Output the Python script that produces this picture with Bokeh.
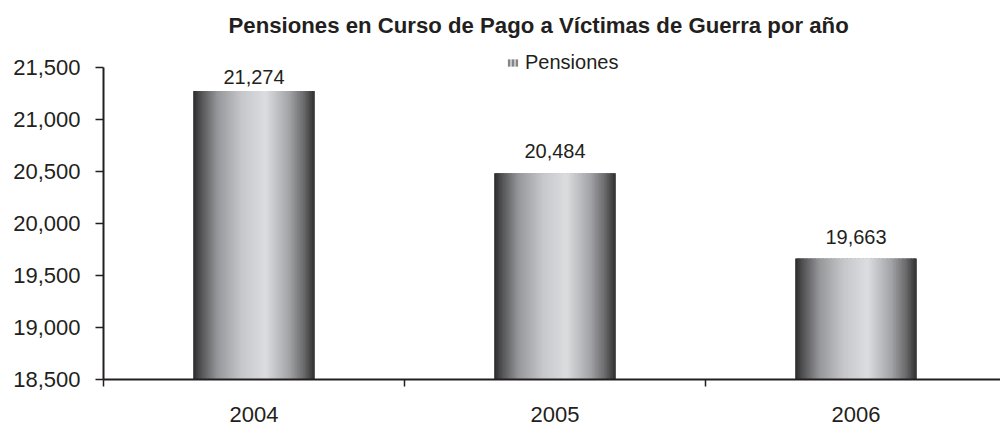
from bokeh.plotting import figure
from bokeh.models import (Range1d, FixedTicker, NumeralTickFormatter, Legend,
                          LegendItem, Title)
from bokeh.core.properties import value
from bokeh.embed import file_html
from bokeh.resources import INLINE

# ---- data ----
years = ["2004", "2005", "2006"]
pensiones = [21274, 20484, 19663]
y_ticks = [18500, 19000, 19500, 20000, 20500, 21000, 21500]
title_text = "Pensiones en Curso de Pago a Víctimas de Guerra por año"
series_name = "Pensiones"

FONT = "Liberation Sans"
TXT = "#231f20"
Y0, Y1 = y_ticks[0], y_ticks[-1]
W, H = 1000, 426
ML, MT, MB = 103, 40, 47
frame_h = H - MT - MB
axis_px = 312                      # pixel length of the 18,500-21,500 axis
ppx = (Y1 - Y0) / axis_px          # data units per pixel
Y_END = Y0 + frame_h * ppx

p = figure(width=W, height=H, x_range=Range1d(0, 2.98),
           y_range=Range1d(Y0, Y_END),
           output_backend="svg", toolbar_location=None,
           min_border_left=ML, min_border_right=0, min_border_top=MT,
           min_border_bottom=MB, title=None)
p.outline_line_color = None
p.xgrid.visible = False
p.ygrid.visible = False
p.background_fill_color = "white"
p.border_fill_color = "white"

t = Title(text=title_text, text_font=FONT, text_font_size="22.2px",
          text_font_style="bold", text_color=TXT, align="left", offset=125,
          standoff=5)
p.add_layout(t, "above")

centers = [i + 0.5 for i in range(len(years))]
bar_w = 0.4

# base bars (used as legend swatch; fully covered by the gradient strips)
r_leg = p.vbar(x=centers, top=pensiones, bottom=Y0, width=bar_w,
               fill_color="#c4c5c8", line_color=None,
               hatch_pattern="vertical_line", hatch_color="#5a5a5a",
               hatch_scale=4, hatch_weight=1.2)

# gradient bars made of thin strips
stops = [(0.0, (0x2a, 0x2a, 0x2a)), (0.06, (0x50, 0x50, 0x52)),
         (0.2, (0x95, 0x96, 0x99)), (0.4, (0xc6, 0xc7, 0xca)),
         (0.6, (0xdc, 0xdd, 0xe0)), (0.8, (0xa2, 0xa3, 0xa6)),
         (0.92, (0x6a, 0x6a, 0x6c)), (1.0, (0x34, 0x34, 0x34))]


def grad(f):
    for (a, ca), (b, cb) in zip(stops[:-1], stops[1:]):
        if a <= f <= b:
            k = (f - a) / (b - a)
            c = [round(ca[i] + (cb[i] - ca[i]) * k) for i in range(3)]
            return "#%02x%02x%02x" % tuple(c)
    return "#343434"


N = 80
xs, tops, cols = [], [], []
for c, v in zip(centers, pensiones):
    for j in range(N):
        f = (j + 0.5) / N
        xs.append(c - bar_w / 2 + f * bar_w)
        tops.append(v)
        cols.append(grad(f))
p.vbar(x=xs, top=tops, bottom=Y0, width=bar_w / N * 1.8, fill_color=cols,
       line_color=None)

# data labels (vertical centre of text above bar top, clamped below 21,500)
label_y = [min(v + 22 * ppx, Y1 - 9.5 * ppx) for v in pensiones]
p.text(x=centers, y=label_y, text=[f"{v:,}" for v in pensiones],
       text_align="center", text_baseline="middle",
       text_font=value(FONT), text_font_size="20px", text_color=TXT)

# axes
xa = p.xaxis[0]
xa.ticker = FixedTicker(ticks=centers, minor_ticks=[0, 1, 2])
xa.major_label_overrides = {c: y for c, y in zip(centers, years)}
xa.major_tick_out = 0
xa.major_tick_in = 0
xa.minor_tick_out = 7
xa.minor_tick_in = 0
xa.minor_tick_line_color = TXT
xa.minor_tick_line_width = 1.5
xa.axis_line_width = 2
xa.axis_line_color = TXT
xa.major_label_text_font = FONT
xa.major_label_text_font_size = "22px"
xa.major_label_text_color = TXT
xa.major_label_standoff = 20

ya = p.yaxis[0]
ya.ticker = FixedTicker(ticks=y_ticks)
ya.bounds = (Y0, Y1)
ya.formatter = NumeralTickFormatter(format="0,0")
ya.major_tick_out = 8
ya.major_tick_in = 0
ya.major_tick_line_width = 1.5
ya.major_tick_line_color = TXT
ya.minor_tick_line_color = None
ya.axis_line_width = 2
ya.axis_line_color = TXT
ya.major_label_text_font = FONT
ya.major_label_text_font_size = "22px"
ya.major_label_text_color = TXT
ya.major_label_standoff = 15

leg = Legend(items=[LegendItem(label=series_name, renderers=[r_leg])],
             location=(403, frame_h - 22 - 12), orientation="horizontal",
             padding=0, margin=0, label_standoff=6, glyph_width=13,
             glyph_height=9, label_height=20, label_text_font=FONT,
             label_text_font_size="20px", label_text_color=TXT,
             label_text_baseline="middle",
             border_line_color=None, background_fill_alpha=0)
p.add_layout(leg, "center")

open("out.html", "w").write(file_html(p, INLINE))
